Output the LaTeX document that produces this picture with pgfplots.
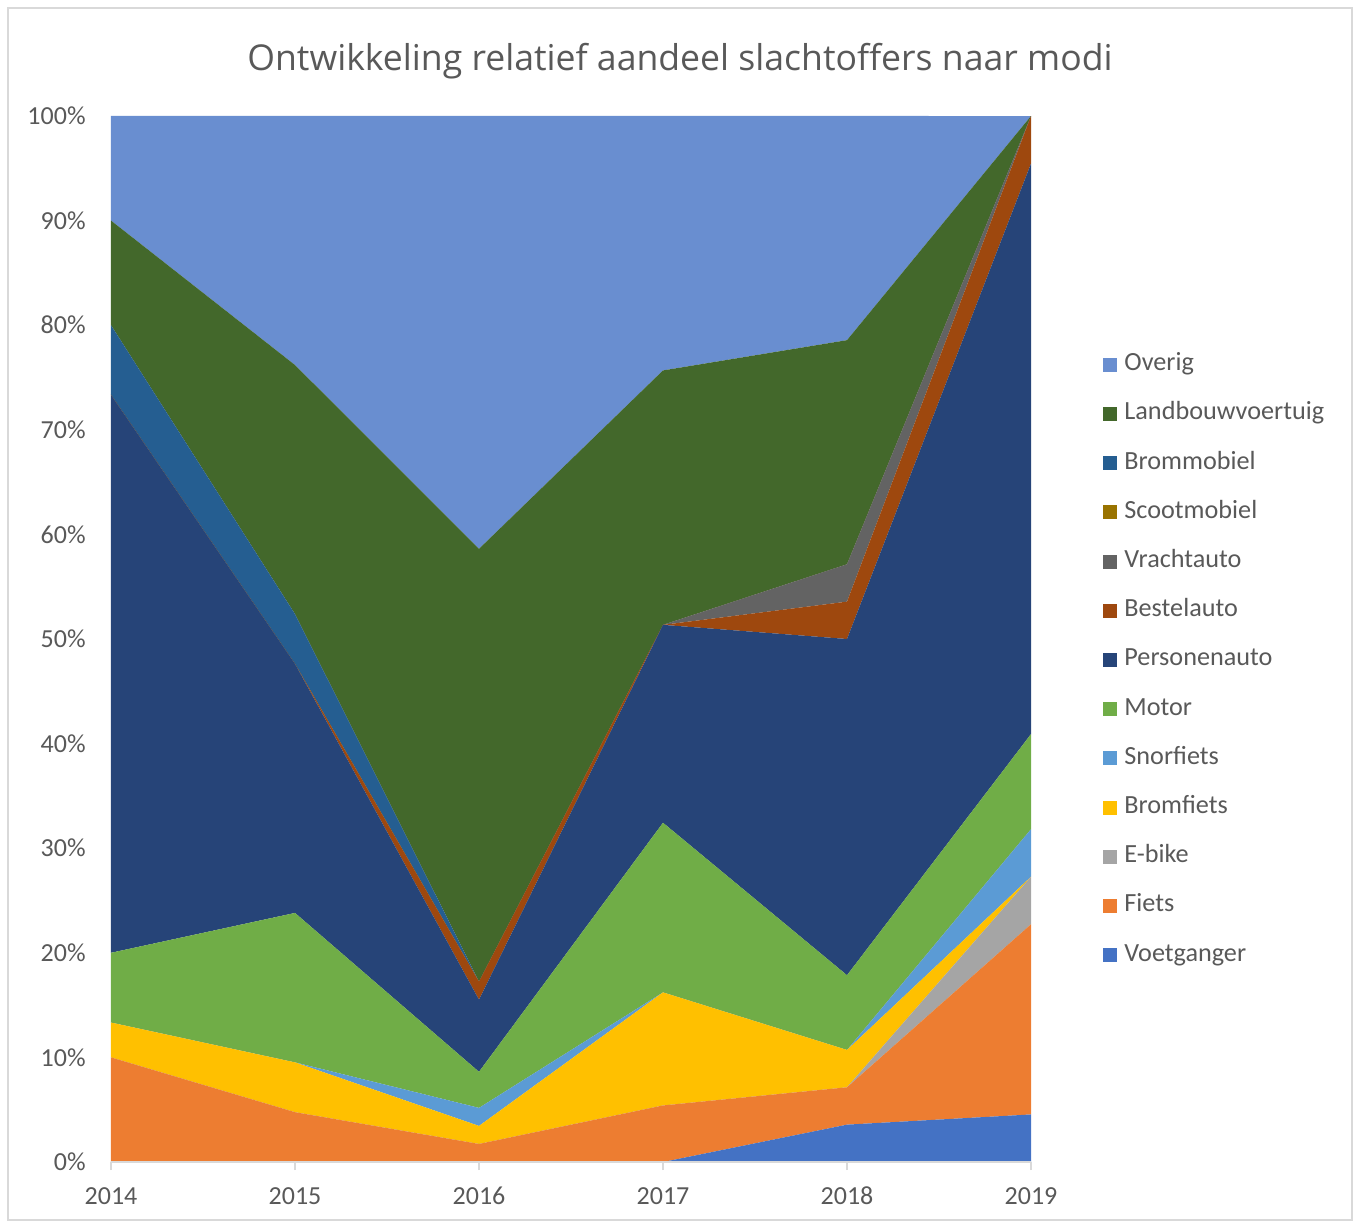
\documentclass[border=0pt]{standalone}
\usepackage{fontspec}
\setmainfont{Carlito}
\newfontfamily\titlefont{Open Sans}
\usepackage{pgfplots}
\usepackage{pgfplotstable}
\pgfplotsset{compat=1.18}

\definecolor{cVoet}{HTML}{4472C4}
\definecolor{cFiets}{HTML}{ED7D31}
\definecolor{cEbike}{HTML}{A5A5A5}
\definecolor{cBrom}{HTML}{FFC000}
\definecolor{cSnor}{HTML}{5B9BD5}
\definecolor{cMotor}{HTML}{70AD47}
\definecolor{cAuto}{HTML}{264478}
\definecolor{cBestel}{HTML}{9E480E}
\definecolor{cVracht}{HTML}{636363}
\definecolor{cScoot}{HTML}{997300}
\definecolor{cBrommob}{HTML}{255E91}
\definecolor{cLandbouw}{HTML}{43682B}
\definecolor{cOverig}{HTML}{698ED0}
\definecolor{cText}{HTML}{595959}
\definecolor{cLine}{HTML}{D9D9D9}

% share of victims per mode (percent), years 2014-2019 as 0..5
\pgfplotstableread{
x voet  fiets  ebike brom   snor  motor  auto   bestel vracht scoot brommob landbouw overig
0 0     10.000 0     3.333  0     6.667  53.333 0      0      0     6.667   10.000   10.000
1 0     4.762  0     4.762  0     14.286 23.810 0      0      0     4.762   23.810   23.810
2 0     1.724  0     1.724  1.724 3.448  6.897  1.724  0      0     0       41.379   41.379
3 0     5.405  0     10.811 0     16.216 18.919 0      0      0     0       24.324   24.324
4 3.571 3.571  0     3.571  0     7.143  32.143 3.571  3.571  0     0       21.429   21.429
5 4.545 18.182 4.545 0      4.545 9.091  54.545 4.545  0      0     0       0        0
}\modi

\begin{document}
\begin{tikzpicture}[x=0.5pt,y=0.5pt]
\path[use as bounding box] (0,0) rectangle (1359,1225);
\draw[cLine, line width=0.75pt] (8,5) rectangle (1352,1217);
\node[font=\titlefont\fontsize{17.8}{21}\selectfont, text=cText] at (680,1164)
  {Ontwikkeling relatief aandeel slachtoffers naar modi};
\begin{axis}[
  at={(55.5pt,31.5pt)}, anchor=south west,
  scale only axis, width=460pt, height=523pt,
  stack plots=y, area style,
  xmin=0, xmax=5, ymin=0, ymax=100,
  xtick={0,1,2,3,4,5},
  xticklabels={2014,2015,2016,2017,2018,2019},
  ytick={0,10,...,100},
  yticklabels={0\%,10\%,20\%,30\%,40\%,50\%,60\%,70\%,80\%,90\%,100\%},
  axis lines*=left,
  x axis line style={cLine, line width=0.75pt},
  y axis line style={draw=none},
  tick align=outside,
  xtick style={cLine, line width=0.75pt},
  major tick length=4pt,
  ytick style={draw=none},
  tick label style={font=\fontsize{13}{16}\selectfont, text=cText},
  xticklabel style={anchor=center, inner sep=0pt, yshift=-13pt},
  yticklabel style={anchor=east, inner sep=0pt, xshift=-8.5pt},
  legend style={at={(1.0783,0.4800)}, anchor=west, draw=none, fill=none,
    inner sep=0pt, row sep=12.6pt, column sep=3.5pt,
    font=\fontsize{13.1}{16}\selectfont, text=cText,
    nodes={inner sep=0pt, text height=9pt, text depth=3pt}},
  legend cell align=left,
  reverse legend,
  legend image code/.code={\path[#1, draw=none] (0pt,-3.5pt) rectangle (7pt,3.5pt);},
  every axis plot/.append style={draw=none},
]
\addplot[fill=cVoet]     table[y=voet]     {\modi} \closedcycle;
\addplot[fill=cFiets]    table[y=fiets]    {\modi} \closedcycle;
\addplot[fill=cEbike]    table[y=ebike]    {\modi} \closedcycle;
\addplot[fill=cBrom]     table[y=brom]     {\modi} \closedcycle;
\addplot[fill=cSnor]     table[y=snor]     {\modi} \closedcycle;
\addplot[fill=cMotor]    table[y=motor]    {\modi} \closedcycle;
\addplot[fill=cAuto]     table[y=auto]     {\modi} \closedcycle;
\addplot[fill=cBestel]   table[y=bestel]   {\modi} \closedcycle;
\addplot[fill=cVracht]   table[y=vracht]   {\modi} \closedcycle;
\addplot[fill=cScoot]    table[y=scoot]    {\modi} \closedcycle;
\addplot[fill=cBrommob]  table[y=brommob]  {\modi} \closedcycle;
\addplot[fill=cLandbouw] table[y=landbouw] {\modi} \closedcycle;
\addplot[fill=cOverig]   table[y=overig]   {\modi} \closedcycle;
\legend{Voetganger,Fiets,E-bike,Bromfiets,Snorfiets,Motor,Personenauto,
  Bestelauto,Vrachtauto,Scootmobiel,Brommobiel,Landbouwvoertuig,Overig}
\end{axis}
\end{tikzpicture}
\end{document}
